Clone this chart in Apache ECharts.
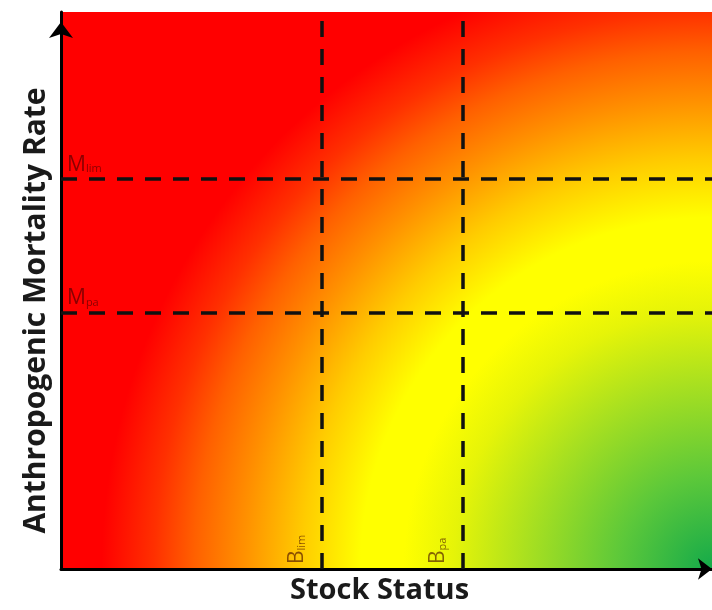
<!DOCTYPE html>
<html>
<head>
<meta charset="utf-8">
<script src="https://cdn.jsdelivr.net/npm/echarts@6/dist/echarts.min.js"></script>
<style>
html,body{margin:0;padding:0;background:#fff;}
#chart{width:712px;height:610px;}
</style>
</head>
<body>
<div id="chart"></div>
<script>
// ---- data ----
const xAxisName = 'Stock Status';
const yAxisName = 'Anthropogenic Mortality Rate';
const vRefMain = ['B', 'B'];
const vRefSub = ['lim', 'pa'];
const vRefValues = [40, 61.7];      // stock status reference points (B_lim, B_pa)
const hRefMain = ['M', 'M'];
const hRefSub = ['lim', 'pa'];
const hRefValues = [70, 46];        // mortality reference points (M_lim, M_pa)
const axisMin = 0;
const axisMax = 100;

const chart = echarts.init(document.getElementById('chart'));

const labelRich = {
  m: { fontSize: 21, fontFamily: 'Open Sans', color: 'rgba(60,0,0,0.6)' },
  s: { fontSize: 11, fontFamily: 'Open Sans', color: 'rgba(60,0,0,0.6)', padding: [9, 0, 0, 0] }
};

const markData = [];
vRefValues.forEach((v, i) => {
  markData.push({
    xAxis: v,
    label: {
      show: true,
      position: 'insideStartTop',
      distance: [5, 14],
      formatter: '{m|' + vRefMain[i] + '}{s|' + vRefSub[i] + '}',
      rich: labelRich
    }
  });
});
hRefValues.forEach((v, i) => {
  markData.push({
    yAxis: v,
    label: {
      show: true,
      position: 'insideStartTop',
      distance: [6, 4],
      formatter: '{m|' + hRefMain[i] + '}{s|' + hRefSub[i] + '}',
      rich: labelRich
    }
  });
});

const axisLineStyle = { color: '#000', width: 3 };

chart.setOption({
  animation: false,
  grid: {
    left: 61, right: 0, top: 12, bottom: 39,
    show: true,
    borderWidth: 0,
    backgroundColor: new echarts.graphic.RadialGradient(1, 1, 1.107, [
      { offset: 0.00, color: '#14aa4a' },
      { offset: 0.15, color: '#5cc83a' },
      { offset: 0.30, color: '#a8e020' },
      { offset: 0.42, color: '#e6f408' },
      { offset: 0.50, color: '#ffff00' },
      { offset: 0.57, color: '#ffff00' },
      { offset: 0.665, color: '#ffcc00' },
      { offset: 0.76, color: '#ff9000' },
      { offset: 0.84, color: '#ff6000' },
      { offset: 0.905, color: '#ff3000' },
      { offset: 0.99, color: '#ff0000' },
      { offset: 1.00, color: '#ff0000' }
    ])
  },
  xAxis: {
    type: 'value', min: axisMin, max: axisMax,
    name: xAxisName, nameLocation: 'middle', nameGap: 7,
    nameTextStyle: { fontFamily: 'Open Sans', fontWeight: 'bold', fontSize: 29, color: '#1a1a1a', verticalAlign: 'top', padding: [0, 14, 0, 0] },
    axisLine: { show: true, onZero: false, symbol: ['none', 'arrow'], symbolSize: [16, 14], lineStyle: axisLineStyle },
    axisTick: { show: false }, axisLabel: { show: false }, splitLine: { show: false }
  },
  yAxis: {
    type: 'value', min: axisMin, max: axisMax,
    name: yAxisName, nameLocation: 'middle', nameGap: 10,
    nameTextStyle: { fontFamily: 'Open Sans', fontWeight: 'bold', fontSize: 30, color: '#1a1a1a', padding: [0, 40, 0, 0] },
    axisLine: { show: true, onZero: false, symbol: ['none', 'arrow'], symbolSize: [18, 16], symbolOffset: [0, -10], lineStyle: axisLineStyle },
    axisTick: { show: false }, axisLabel: { show: false }, splitLine: { show: false }
  },
  series: [{
    type: 'line',
    data: [],
    silent: true,
    markLine: {
      silent: true,
      symbol: ['none', 'none'],
      lineStyle: { color: '#111', width: 3.5, type: [16, 12] },
      emphasis: { disabled: true },
      data: markData
    }
  }]
});
</script>
</body>
</html>
